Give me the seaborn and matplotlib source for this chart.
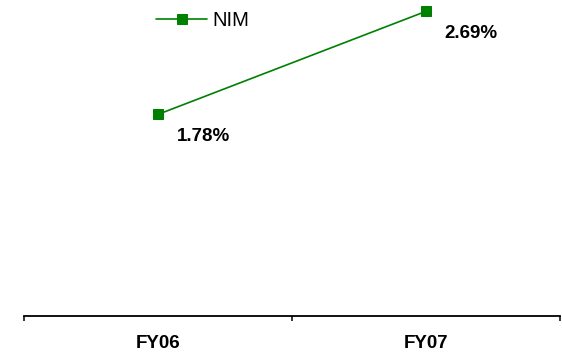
import matplotlib
matplotlib.use("Agg")
import matplotlib.pyplot as plt
import seaborn as sns
import pandas as pd

# Net interest margin by fiscal year
years = ["FY06", "FY07"]
nim = [1.78, 2.69]
labels = ["1.78%", "2.69%"]

sns.set_style("white")
plt.rcParams["font.family"] = ["Liberation Sans", "DejaVu Sans"]
plt.rcParams["text.color"] = "black"
plt.rcParams["xtick.color"] = "black"
plt.rcParams["xtick.labelcolor"] = "black"

df = pd.DataFrame({"year": years, "nim": nim})

fig = plt.figure(figsize=(5.62, 3.53), dpi=100)
ax = fig.add_axes([24 / 562, 1 - 316 / 353, 536 / 562, 316 / 353])

green = "#008000"
sns.lineplot(data=df, x="year", y="nim", ax=ax, color=green, linewidth=1.2,
             marker="s", markersize=7.5, markeredgecolor=green,
             markerfacecolor=green, label="NIM", clip_on=False)

for i, (v, t) in enumerate(zip(nim, labels)):
    ax.annotate(t, xy=(i, v), xytext=(32.5, -16), textcoords="offset points",
                ha="center", va="center", fontsize=13.5, fontweight="bold",
                color="black")

ax.set_xlim(-0.5, 1.5)
ax.set_ylim(0, 2.79)
ax.set_xlabel("")
ax.set_ylabel("")
ax.set_yticks([])

ax.set_xticks([0, 1])
ax.set_xticklabels(years, fontsize=13.5, fontweight="bold", color="black")
ax.set_xticks([-0.5, 0.5, 1.5], minor=True)
ax.tick_params(axis="x", which="major", length=0, pad=14)
ax.tick_params(axis="x", which="minor", length=3.8, width=1.1,
               direction="out", color="black", bottom=True)

for s in ["top", "left", "right"]:
    ax.spines[s].set_visible(False)
ax.spines["bottom"].set_color("black")
ax.spines["bottom"].set_linewidth(1.3)

leg = ax.legend(loc="center left", bbox_to_anchor=(156 / 562, 1 - 20.7 / 353),
                bbox_transform=fig.transFigure, frameon=False, borderpad=0,
                borderaxespad=0, handlelength=2.55, handletextpad=0.25,
                prop={"size": 14.5})
for t in leg.get_texts():
    t.set_color("black")

fig.savefig("out.png", dpi=100)
